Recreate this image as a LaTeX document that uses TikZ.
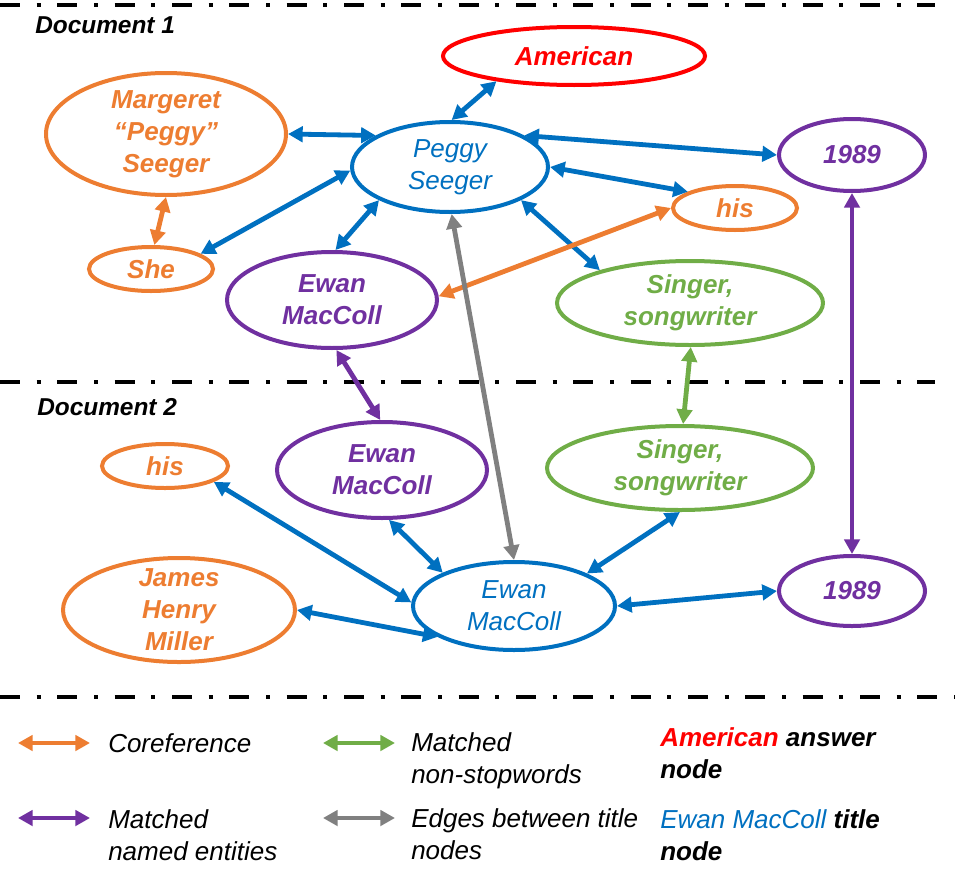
\documentclass[tikz,border=0pt]{standalone}
\usepackage{fontspec}
\setmainfont{Liberation Sans}
\definecolor{tblue}{RGB}{0,112,192}
\definecolor{corange}{RGB}{237,125,49}
\definecolor{epurple}{RGB}{112,48,160}
\definecolor{mgreen}{RGB}{112,173,71}
\definecolor{agray}{RGB}{128,128,128}
\definecolor{ared}{RGB}{255,0,0}
\usetikzlibrary{shapes,arrows.meta,positioning,calc}

\begin{document}
\begin{tikzpicture}[x=0.75pt,y=-0.75pt,
    every node/.style={font=\fontsize{19.5}{24}\selectfont\bfseries\itshape, align=center},
    ent/.style 2 args={ellipse, draw, line width=3pt, inner sep=0pt, inner ysep=-10pt,
        minimum width=#1*1.5pt, minimum height=#2*1.5pt},
    titlenode/.style={draw=tblue, text=tblue, font=\fontsize{19.5}{24}\selectfont\itshape},
    coref/.style={draw=corange, text=corange},
    named/.style={draw=epurple, text=epurple},
    word/.style={draw=mgreen, text=mgreen},
    answer/.style={draw=ared, text=ared},
    link/.style={line width=3.6pt, {Triangle[length=11pt,width=11.5pt]}-{Triangle[length=11pt,width=11.5pt]}},
    legend/.style={anchor=west, inner sep=0pt, align=left, font=\fontsize{19.5}{24}\selectfont\itshape},
    docsep/.style={line width=3pt, dash pattern=on 15pt off 12.5pt on 3pt off 12.5pt}]
    \useasboundingbox (0,0) rectangle (970,885);

    \foreach \y/\e in {5/935, 382/935, 697/955} {
        \draw[docsep] (0,\y) -- (\e,\y);
    }
    \node[anchor=west, inner sep=0pt, font=\fontsize{18.3}{22}\selectfont\bfseries\itshape] (doc1) at (35,25) {Document 1};
    \node[anchor=west, inner sep=0pt, font=\fontsize{18.3}{22}\selectfont\bfseries\itshape] (doc2) at (37,407) {Document 2};

    % document 1
    \node[ent={98}{45}, titlenode] (peggy) at (450,167) {Peggy\\Seeger};
    \node[ent={131}{29}, answer] (amer) at (574,56) {American};
    \node[ent={120}{61}, coref] (marg) at (166,134) {Margeret\\``Peggy''\\Seeger};
    \node[ent={62}{22}, coref] (she) at (151,269) {She};
    \node[ent={105}{48}, named] (ewanA) at (332,300) {Ewan\\MacColl};
    \node[ent={73}{36}, named] (yearA) at (852,155) {1989};
    \node[ent={62}{22}, coref] (hisA) at (735,208) {his};
    \node[ent={133}{42}, word] (singA) at (690,303) {Singer,\\songwriter};

    % document 2
    \node[ent={63}{22}, coref] (hisB) at (165,466) {his};
    \node[ent={116}{52}, coref] (james) at (179,610) {James\\Henry\\Miller};
    \node[ent={105}{48}, named] (ewanB) at (382,470) {Ewan\\MacColl};
    \node[ent={101}{44}, titlenode] (ewanT) at (514,606) {Ewan\\MacColl};
    \node[ent={133}{42}, word] (singB) at (680,468) {Singer,\\songwriter};
    \node[ent={73}{35}, named] (yearB) at (852,591) {1989};

    \draw[link, tblue] (peggy.88) -- (amer.198);
    \draw[link, tblue] (peggy.157) -- (marg.0);
    \draw[link, tblue] (peggy.182) -- (she.17);
    \draw[link, tblue] (peggy.205) -- (ewanA.86);
    \draw[link, tblue] (peggy.23) -- (yearA.180);
    \draw[link, tblue] (peggy.0) -- (hisA.161);
    \draw[link, tblue] (peggy.-25) -- (singA.160);
    \draw[link, corange] (marg.270) -- (she.82);
    \draw[link, corange] (hisA.180) -- (ewanA.2);
    \draw[link, epurple] (ewanA.-85) -- (ewanB.92);
    \draw[link, epurple] (yearA.270) -- (yearB.90);
    \draw[link, mgreen] (singA.-89) -- (singB.86);
    \draw[link, agray] (peggy.-88) -- (ewanT.90);

    \draw[link, tblue] (ewanT.178) -- (hisB.-18);
    \draw[link, tblue] (ewanT.202) -- (james.0);
    \draw[link, tblue] (ewanT.155) -- (ewanB.-82);
    \draw[link, tblue] (ewanT.24) -- (singB.270);
    \draw[link, tblue] (ewanT.0) -- (yearB.180);

    % legend
    \foreach \c/\x/\y in {corange/18/743, epurple/18/818, mgreen/323/743, agray/323/818} {
        \coordinate (\c-a) at (\x,\y);
        \coordinate (\c-b) at (\x+72,\y);
        \draw[link, \c] (\c-a) -- (\c-b);
    }
    \node[legend] (lcoref) at (108,743) {Coreference};
    \node[legend] (lnamed) at (108,835) {Matched\\named entities};
    \node[legend] (lwords) at (411,761) {Matched\\non-stopwords};
    \node[legend] (ledges) at (411,834) {Edges between title\\nodes};
    \node[legend, font=\fontsize{19.5}{24}\selectfont\bfseries\itshape] (lanswer) at (660,753) {\textcolor{ared}{American} answer\\node};
    \node[legend, font=\fontsize{19.5}{24}\selectfont\bfseries\itshape] (ltitle) at (660,835) {\textcolor{tblue}{\mdseries Ewan MacColl} title\\node};
\end{tikzpicture}
\end{document}
